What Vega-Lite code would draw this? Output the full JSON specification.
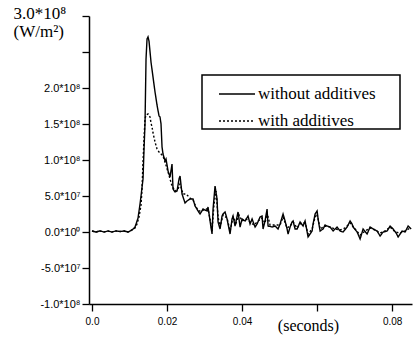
{
  "$schema": "https://vega.github.io/schema/vega-lite/v6.json",
  "width": 323,
  "height": 288,
  "autosize": {"type": "none"},
  "padding": {"left": 89, "top": 16, "right": 1, "bottom": 39},
  "background": "white",
  "data": {
    "values": [
      {"time": 0, "flux": 1400000, "series": "with additives"},
      {"time": 0.00107, "flux": 0, "series": "with additives"},
      {"time": 0.00213, "flux": 1400000, "series": "with additives"},
      {"time": 0.0032, "flux": 0, "series": "with additives"},
      {"time": 0.00427, "flux": 1400000, "series": "with additives"},
      {"time": 0.00533, "flux": 0, "series": "with additives"},
      {"time": 0.0064, "flux": 1400000, "series": "with additives"},
      {"time": 0.00747, "flux": 700000, "series": "with additives"},
      {"time": 0.00853, "flux": 1400000, "series": "with additives"},
      {"time": 0.0096, "flux": 0, "series": "with additives"},
      {"time": 0.01067, "flux": 2800000, "series": "with additives"},
      {"time": 0.01147, "flux": 5600000, "series": "with additives"},
      {"time": 0.012, "flux": 11100000, "series": "with additives"},
      {"time": 0.01253, "flux": 20800000, "series": "with additives"},
      {"time": 0.01307, "flux": 37500000, "series": "with additives"},
      {"time": 0.01333, "flux": 59700000, "series": "with additives"},
      {"time": 0.0136, "flux": 97200000, "series": "with additives"},
      {"time": 0.01387, "flux": 129200000, "series": "with additives"},
      {"time": 0.01413, "flux": 156900000, "series": "with additives"},
      {"time": 0.0144, "flux": 162500000, "series": "with additives"},
      {"time": 0.01493, "flux": 163900000, "series": "with additives"},
      {"time": 0.01547, "flux": 159700000, "series": "with additives"},
      {"time": 0.01573, "flux": 151400000, "series": "with additives"},
      {"time": 0.016, "flux": 145800000, "series": "with additives"},
      {"time": 0.01627, "flux": 137500000, "series": "with additives"},
      {"time": 0.0168, "flux": 125000000, "series": "with additives"},
      {"time": 0.01733, "flux": 115300000, "series": "with additives"},
      {"time": 0.01787, "flux": 111100000, "series": "with additives"},
      {"time": 0.0184, "flux": 108300000, "series": "with additives"},
      {"time": 0.01893, "flux": 105600000, "series": "with additives"},
      {"time": 0.01947, "flux": 97200000, "series": "with additives"},
      {"time": 0.02027, "flux": 83300000, "series": "with additives"},
      {"time": 0.0208, "flux": 73600000, "series": "with additives"},
      {"time": 0.02133, "flux": 63900000, "series": "with additives"},
      {"time": 0.02213, "flux": 56900000, "series": "with additives"},
      {"time": 0.02293, "flux": 59700000, "series": "with additives"},
      {"time": 0.02347, "flux": 66700000, "series": "with additives"},
      {"time": 0.02427, "flux": 52800000, "series": "with additives"},
      {"time": 0.02507, "flux": 52800000, "series": "with additives"},
      {"time": 0.02613, "flux": 47200000, "series": "with additives"},
      {"time": 0.02693, "flux": 44400000, "series": "with additives"},
      {"time": 0.02773, "flux": 34700000, "series": "with additives"},
      {"time": 0.02853, "flux": 29200000, "series": "with additives"},
      {"time": 0.02933, "flux": 29200000, "series": "with additives"},
      {"time": 0.03013, "flux": 31900000, "series": "with additives"},
      {"time": 0.03093, "flux": 31900000, "series": "with additives"},
      {"time": 0.03147, "flux": 18100000, "series": "with additives"},
      {"time": 0.032, "flux": 1400000, "series": "with additives"},
      {"time": 0.03253, "flux": 38900000, "series": "with additives"},
      {"time": 0.03307, "flux": 56900000, "series": "with additives"},
      {"time": 0.0336, "flux": 20800000, "series": "with additives"},
      {"time": 0.03413, "flux": 6900000, "series": "with additives"},
      {"time": 0.03493, "flux": 23600000, "series": "with additives"},
      {"time": 0.036, "flux": 19400000, "series": "with additives"},
      {"time": 0.0368, "flux": 1400000, "series": "with additives"},
      {"time": 0.0376, "flux": 20800000, "series": "with additives"},
      {"time": 0.0384, "flux": 12500000, "series": "with additives"},
      {"time": 0.0392, "flux": 23600000, "series": "with additives"},
      {"time": 0.04, "flux": 15300000, "series": "with additives"},
      {"time": 0.04107, "flux": 18100000, "series": "with additives"},
      {"time": 0.04213, "flux": 13900000, "series": "with additives"},
      {"time": 0.0432, "flux": 9700000, "series": "with additives"},
      {"time": 0.04427, "flux": 15300000, "series": "with additives"},
      {"time": 0.04533, "flux": 19400000, "series": "with additives"},
      {"time": 0.04613, "flux": 12500000, "series": "with additives"},
      {"time": 0.04667, "flux": 26400000, "series": "with additives"},
      {"time": 0.04747, "flux": 9700000, "series": "with additives"},
      {"time": 0.0488, "flux": 9700000, "series": "with additives"},
      {"time": 0.05013, "flux": 9700000, "series": "with additives"},
      {"time": 0.05093, "flux": 20800000, "series": "with additives"},
      {"time": 0.052, "flux": 5600000, "series": "with additives"},
      {"time": 0.0528, "flux": 8300000, "series": "with additives"},
      {"time": 0.0536, "flux": 13900000, "series": "with additives"},
      {"time": 0.05467, "flux": 5600000, "series": "with additives"},
      {"time": 0.05573, "flux": 12500000, "series": "with additives"},
      {"time": 0.0568, "flux": 12500000, "series": "with additives"},
      {"time": 0.0576, "flux": -2800000, "series": "with additives"},
      {"time": 0.05867, "flux": 4200000, "series": "with additives"},
      {"time": 0.05947, "flux": 20800000, "series": "with additives"},
      {"time": 0.06, "flux": 25000000, "series": "with additives"},
      {"time": 0.0608, "flux": 4200000, "series": "with additives"},
      {"time": 0.06213, "flux": 8300000, "series": "with additives"},
      {"time": 0.06347, "flux": 6900000, "series": "with additives"},
      {"time": 0.0648, "flux": 4200000, "series": "with additives"},
      {"time": 0.06613, "flux": 2800000, "series": "with additives"},
      {"time": 0.06747, "flux": 5600000, "series": "with additives"},
      {"time": 0.0688, "flux": 12500000, "series": "with additives"},
      {"time": 0.07013, "flux": 4200000, "series": "with additives"},
      {"time": 0.07147, "flux": -4200000, "series": "with additives"},
      {"time": 0.0728, "flux": 1400000, "series": "with additives"},
      {"time": 0.07413, "flux": 5600000, "series": "with additives"},
      {"time": 0.07547, "flux": 2800000, "series": "with additives"},
      {"time": 0.0768, "flux": -1400000, "series": "with additives"},
      {"time": 0.07813, "flux": 1400000, "series": "with additives"},
      {"time": 0.07947, "flux": 6900000, "series": "with additives"},
      {"time": 0.0808, "flux": 0, "series": "with additives"},
      {"time": 0.08213, "flux": -1400000, "series": "with additives"},
      {"time": 0.08347, "flux": 1400000, "series": "with additives"},
      {"time": 0.0848, "flux": 5600000, "series": "with additives"},

      {"time": 0, "flux": 1400000, "series": "without additives"},
      {"time": 0.00107, "flux": 0, "series": "without additives"},
      {"time": 0.00213, "flux": 1400000, "series": "without additives"},
      {"time": 0.0032, "flux": 0, "series": "without additives"},
      {"time": 0.00427, "flux": 1400000, "series": "without additives"},
      {"time": 0.00533, "flux": 0, "series": "without additives"},
      {"time": 0.0064, "flux": 1400000, "series": "without additives"},
      {"time": 0.00747, "flux": 700000, "series": "without additives"},
      {"time": 0.00853, "flux": 1400000, "series": "without additives"},
      {"time": 0.0096, "flux": 0, "series": "without additives"},
      {"time": 0.01067, "flux": 2800000, "series": "without additives"},
      {"time": 0.01147, "flux": 6900000, "series": "without additives"},
      {"time": 0.01227, "flux": 19400000, "series": "without additives"},
      {"time": 0.0128, "flux": 38900000, "series": "without additives"},
      {"time": 0.01307, "flux": 50000000, "series": "without additives"},
      {"time": 0.0136, "flux": 73600000, "series": "without additives"},
      {"time": 0.01387, "flux": 115300000, "series": "without additives"},
      {"time": 0.01413, "flux": 150000000, "series": "without additives"},
      {"time": 0.0144, "flux": 240000000, "series": "without additives"},
      {"time": 0.01467, "flux": 268000000, "series": "without additives"},
      {"time": 0.01493, "flux": 271000000, "series": "without additives"},
      {"time": 0.0152, "flux": 265000000, "series": "without additives"},
      {"time": 0.01573, "flux": 236000000, "series": "without additives"},
      {"time": 0.01627, "flux": 215000000, "series": "without additives"},
      {"time": 0.0168, "flux": 194400000, "series": "without additives"},
      {"time": 0.01733, "flux": 176400000, "series": "without additives"},
      {"time": 0.01787, "flux": 161100000, "series": "without additives"},
      {"time": 0.01813, "flux": 159700000, "series": "without additives"},
      {"time": 0.0184, "flux": 150000000, "series": "without additives"},
      {"time": 0.01867, "flux": 118000000, "series": "without additives"},
      {"time": 0.01893, "flux": 108300000, "series": "without additives"},
      {"time": 0.01947, "flux": 98600000, "series": "without additives"},
      {"time": 0.01973, "flux": 101400000, "series": "without additives"},
      {"time": 0.02027, "flux": 84700000, "series": "without additives"},
      {"time": 0.0208, "flux": 76400000, "series": "without additives"},
      {"time": 0.02133, "flux": 94400000, "series": "without additives"},
      {"time": 0.0216, "flux": 59700000, "series": "without additives"},
      {"time": 0.02213, "flux": 55600000, "series": "without additives"},
      {"time": 0.02267, "flux": 56900000, "series": "without additives"},
      {"time": 0.0232, "flux": 73600000, "series": "without additives"},
      {"time": 0.02347, "flux": 77800000, "series": "without additives"},
      {"time": 0.024, "flux": 52800000, "series": "without additives"},
      {"time": 0.02427, "flux": 48600000, "series": "without additives"},
      {"time": 0.0248, "flux": 40300000, "series": "without additives"},
      {"time": 0.02533, "flux": 43100000, "series": "without additives"},
      {"time": 0.02613, "flux": 45800000, "series": "without additives"},
      {"time": 0.02693, "flux": 45800000, "series": "without additives"},
      {"time": 0.02747, "flux": 36100000, "series": "without additives"},
      {"time": 0.02827, "flux": 29200000, "series": "without additives"},
      {"time": 0.0288, "flux": 25000000, "series": "without additives"},
      {"time": 0.0296, "flux": 31900000, "series": "without additives"},
      {"time": 0.03067, "flux": 29200000, "series": "without additives"},
      {"time": 0.03093, "flux": 34700000, "series": "without additives"},
      {"time": 0.03147, "flux": 15300000, "series": "without additives"},
      {"time": 0.032, "flux": -2800000, "series": "without additives"},
      {"time": 0.03227, "flux": 31900000, "series": "without additives"},
      {"time": 0.0328, "flux": 63900000, "series": "without additives"},
      {"time": 0.03333, "flux": 45800000, "series": "without additives"},
      {"time": 0.0336, "flux": 13900000, "series": "without additives"},
      {"time": 0.03413, "flux": 4200000, "series": "without additives"},
      {"time": 0.03467, "flux": 22200000, "series": "without additives"},
      {"time": 0.03493, "flux": 25000000, "series": "without additives"},
      {"time": 0.03547, "flux": 27800000, "series": "without additives"},
      {"time": 0.036, "flux": 18100000, "series": "without additives"},
      {"time": 0.03627, "flux": 11100000, "series": "without additives"},
      {"time": 0.0368, "flux": -2800000, "series": "without additives"},
      {"time": 0.03733, "flux": 18100000, "series": "without additives"},
      {"time": 0.0376, "flux": 22200000, "series": "without additives"},
      {"time": 0.03813, "flux": 8300000, "series": "without additives"},
      {"time": 0.03893, "flux": 27800000, "series": "without additives"},
      {"time": 0.03947, "flux": 6900000, "series": "without additives"},
      {"time": 0.04, "flux": 18100000, "series": "without additives"},
      {"time": 0.0408, "flux": 15300000, "series": "without additives"},
      {"time": 0.0416, "flux": 22200000, "series": "without additives"},
      {"time": 0.04213, "flux": 11100000, "series": "without additives"},
      {"time": 0.04267, "flux": 18100000, "series": "without additives"},
      {"time": 0.04347, "flux": 6900000, "series": "without additives"},
      {"time": 0.044, "flux": 11100000, "series": "without additives"},
      {"time": 0.0448, "flux": 20800000, "series": "without additives"},
      {"time": 0.04533, "flux": 22200000, "series": "without additives"},
      {"time": 0.0456, "flux": 4200000, "series": "without additives"},
      {"time": 0.04613, "flux": 15300000, "series": "without additives"},
      {"time": 0.04667, "flux": 31900000, "series": "without additives"},
      {"time": 0.04693, "flux": 8300000, "series": "without additives"},
      {"time": 0.048, "flux": 6900000, "series": "without additives"},
      {"time": 0.0488, "flux": 8300000, "series": "without additives"},
      {"time": 0.0496, "flux": 4200000, "series": "without additives"},
      {"time": 0.05013, "flux": 11100000, "series": "without additives"},
      {"time": 0.05093, "flux": 25000000, "series": "without additives"},
      {"time": 0.05147, "flux": 15300000, "series": "without additives"},
      {"time": 0.052, "flux": 4200000, "series": "without additives"},
      {"time": 0.05227, "flux": -2800000, "series": "without additives"},
      {"time": 0.0528, "flux": 6900000, "series": "without additives"},
      {"time": 0.05333, "flux": 13900000, "series": "without additives"},
      {"time": 0.0536, "flux": 15300000, "series": "without additives"},
      {"time": 0.05413, "flux": 4200000, "series": "without additives"},
      {"time": 0.05467, "flux": 4200000, "series": "without additives"},
      {"time": 0.05547, "flux": 13900000, "series": "without additives"},
      {"time": 0.05627, "flux": 8300000, "series": "without additives"},
      {"time": 0.0568, "flux": 15300000, "series": "without additives"},
      {"time": 0.0576, "flux": -6900000, "series": "without additives"},
      {"time": 0.05813, "flux": -2800000, "series": "without additives"},
      {"time": 0.05867, "flux": 1400000, "series": "without additives"},
      {"time": 0.05893, "flux": 11100000, "series": "without additives"},
      {"time": 0.05947, "flux": 25000000, "series": "without additives"},
      {"time": 0.06, "flux": 29200000, "series": "without additives"},
      {"time": 0.06027, "flux": 18100000, "series": "without additives"},
      {"time": 0.0608, "flux": 1400000, "series": "without additives"},
      {"time": 0.0616, "flux": 4200000, "series": "without additives"},
      {"time": 0.06213, "flux": 9700000, "series": "without additives"},
      {"time": 0.06267, "flux": 8300000, "series": "without additives"},
      {"time": 0.06347, "flux": 6900000, "series": "without additives"},
      {"time": 0.06427, "flux": 1400000, "series": "without additives"},
      {"time": 0.06533, "flux": 6900000, "series": "without additives"},
      {"time": 0.06613, "flux": 1400000, "series": "without additives"},
      {"time": 0.06693, "flux": 0, "series": "without additives"},
      {"time": 0.068, "flux": 6900000, "series": "without additives"},
      {"time": 0.0688, "flux": 15300000, "series": "without additives"},
      {"time": 0.06933, "flux": 11100000, "series": "without additives"},
      {"time": 0.0696, "flux": 6900000, "series": "without additives"},
      {"time": 0.07067, "flux": 0, "series": "without additives"},
      {"time": 0.07147, "flux": -9700000, "series": "without additives"},
      {"time": 0.07227, "flux": 4200000, "series": "without additives"},
      {"time": 0.07333, "flux": -2800000, "series": "without additives"},
      {"time": 0.07413, "flux": 6900000, "series": "without additives"},
      {"time": 0.07493, "flux": 4200000, "series": "without additives"},
      {"time": 0.076, "flux": 1400000, "series": "without additives"},
      {"time": 0.0768, "flux": -5600000, "series": "without additives"},
      {"time": 0.0776, "flux": 0, "series": "without additives"},
      {"time": 0.07867, "flux": 1400000, "series": "without additives"},
      {"time": 0.07947, "flux": 8300000, "series": "without additives"},
      {"time": 0.08027, "flux": 4200000, "series": "without additives"},
      {"time": 0.08107, "flux": -1400000, "series": "without additives"},
      {"time": 0.0816, "flux": -6900000, "series": "without additives"},
      {"time": 0.08267, "flux": 1400000, "series": "without additives"},
      {"time": 0.08347, "flux": 0, "series": "without additives"},
      {"time": 0.08427, "flux": 8300000, "series": "without additives"},
      {"time": 0.08507, "flux": 4200000, "series": "without additives"}
    ]
  },
  "mark": {"type": "line", "color": "black", "strokeWidth": 1.4, "clip": true},
  "encoding": {
    "x": {
      "field": "time",
      "type": "quantitative",
      "scale": {"domain": [-0.0008, 0.0853], "nice": false, "zero": false},
      "axis": {
        "values": [0, 0.02, 0.04, 0.06, 0.08],
        "labelExpr": "datum.value == 0 ? '0.0' : abs(datum.value - 0.06) < 0.001 ? '' : format(datum.value, '.2f')",
        "title": "(seconds)",
        "titleFont": "Liberation Serif",
        "titleFontSize": 16,
        "titleFontWeight": "normal",
        "titleColor": "black",
        "titleX": 219,
        "titleY": 13,
        "titleAlign": "center",
        "titleBaseline": "top",
        "labelFont": "Liberation Sans",
        "labelFontSize": 10,
        "labelColor": "black",
        "labelPadding": 5,
        "labelFlush": false,
        "labelOverlap": false,
        "tickSize": 7,
        "tickColor": "black",
        "tickWidth": 1.3,
        "domainColor": "black",
        "domainWidth": 1.5,
        "grid": false
      }
    },
    "y": {
      "field": "flux",
      "type": "quantitative",
      "scale": {"domain": [-100000000, 300000000], "nice": false, "zero": false},
      "axis": {
        "values": [-100000000, -50000000, 0, 50000000, 100000000, 150000000, 200000000, 250000000, 300000000],
        "labelExpr": "datum.value >= 250000000 ? '' : datum.value == 0 ? '0.0*10⁰' : (datum.value < 0 ? '-' : '') + format(abs(datum.value) >= 100000000 ? abs(datum.value) / 100000000 : abs(datum.value) / 10000000, '.1f') + '*10' + (abs(datum.value) >= 100000000 ? '⁸' : '⁷')",
        "title": ["3.0*10⁸", "(W/m²)"],
        "titleFont": "Liberation Serif",
        "titleFontSize": 17,
        "titleFontWeight": "normal",
        "titleColor": "black",
        "titleAngle": 0,
        "titleAlign": "left",
        "titleBaseline": "top",
        "titleX": -76,
        "titleY": -11,
        "titleLineHeight": 18,
        "labelFont": "Liberation Sans",
        "labelFontSize": 11,
        "labelColor": "black",
        "labelPadding": 2,
        "labelFlush": false,
        "labelOverlap": false,
        "tickSize": 7,
        "tickColor": "black",
        "tickWidth": 1.3,
        "domainColor": "black",
        "domainWidth": 1.5,
        "grid": false
      }
    },
    "strokeDash": {
      "field": "series",
      "type": "nominal",
      "scale": {"domain": ["without additives", "with additives"], "range": [[1, 0], [2, 2]]},
      "legend": {
        "orient": "none",
        "legendX": 113,
        "legendY": 59,
        "title": null,
        "strokeColor": "black",
        "padding": 0,
        "rowPadding": -14,
        "symbolType": "stroke",
        "symbolSize": 1296,
        "symbolStrokeColor": "black",
        "symbolStrokeWidth": 1.3,
        "symbolOffset": 16,
        "labelOffset": 2,
        "labelFont": "Liberation Serif",
        "labelFontSize": 17,
        "labelColor": "black",
        "labelLimit": 300,
        "labelExpr": "datum.label + '\u2800\u2800'"
      }
    }
  },
  "config": {
    "view": {"stroke": null},
    "legend": {"strokeWidth": 1.5}
  }
}
